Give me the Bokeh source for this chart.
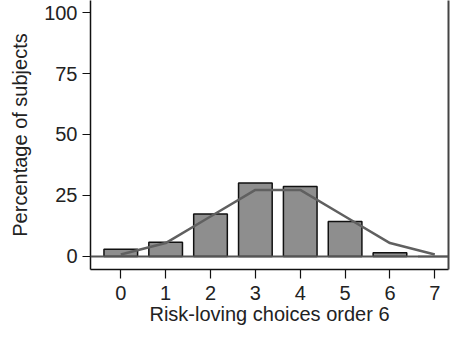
from bokeh.plotting import figure
from bokeh.models import Range1d, LinearAxis, FixedTicker, Span
from bokeh.embed import file_html
from bokeh.resources import INLINE

choices = [0, 1, 2, 3, 4, 5, 6, 7]
pct_subjects = [3.0, 5.8, 17.4, 30.1, 28.7, 14.3, 1.5, 0.0]
pct_random = [0.8, 5.5, 16.4, 27.3, 27.3, 16.4, 5.5, 0.8]
y_ticks = [0, 25, 50, 75, 100]

FONT = "Liberation Sans"
TXT = "#222222"

p = figure(width=460, height=343, output_backend="svg", toolbar_location=None,
           x_range=Range1d(-0.675, 7.305), y_range=Range1d(-5.33, 104.92),
           min_border_left=90, min_border_right=12, min_border_top=0, min_border_bottom=74)
p.outline_line_color = None
p.grid.grid_line_color = None
p.background_fill_color = "white"
p.border_fill_color = "white"

p.vbar(x=choices, top=pct_subjects, bottom=0, width=0.75,
       fill_color="#8e8e8e", line_color="#111111", line_width=1.5)
p.add_layout(Span(location=0, dimension="width", line_color="#555555", line_width=2))
p.line(choices, pct_random, line_color="#606060", line_width=2.5)

xa = p.xaxis[0]
xa.ticker = FixedTicker(ticks=choices)
xa.axis_label = "Risk-loving choices order 6"
ya = p.yaxis[0]
ya.ticker = FixedTicker(ticks=y_ticks)
ya.axis_label = "Percentage of subjects"
for ax in (xa, ya):
    ax.axis_line_color = "#111111"
    ax.axis_line_width = 1.5
    ax.major_tick_line_color = "#111111"
    ax.major_tick_line_width = 1.2
    ax.major_tick_in = 0
    ax.minor_tick_line_color = None
    ax.major_label_text_font = FONT
    ax.major_label_text_font_size = "20px"
    ax.major_label_text_color = TXT
    ax.axis_label_text_font = FONT
    ax.axis_label_text_font_size = "20px"
    ax.axis_label_text_color = TXT
    ax.axis_label_text_font_style = "normal"
xa.major_tick_out = 9
xa.major_label_standoff = 7
xa.axis_label_standoff = 0
ya.major_tick_out = 8
ya.major_label_standoff = 5
ya.axis_label_standoff = 10

ra = LinearAxis(ticker=FixedTicker(ticks=[]), axis_line_color="#444444", axis_line_width=2,
                major_tick_line_color=None, minor_tick_line_color=None,
                major_tick_out=0, major_label_standoff=0)
p.add_layout(ra, "right")

open("out.html", "w").write(file_html(p, INLINE))
